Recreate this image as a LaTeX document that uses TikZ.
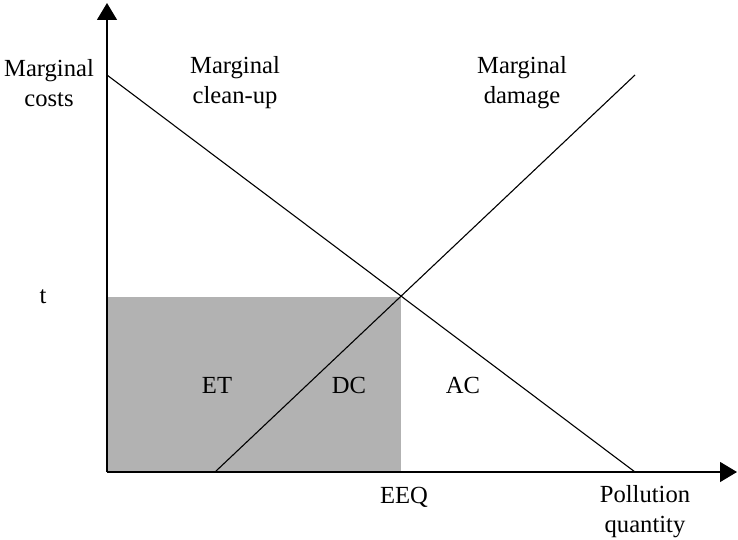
\documentclass[tikz,border=0pt]{standalone}
\usepackage{fontspec}
\setmainfont{Liberation Serif}
\usetikzlibrary{arrows.meta}

\begin{document}
\begin{tikzpicture}[x=0.5pt, y=-0.5pt, font=\fontsize{12.3}{15}\selectfont]
	  \tikzstyle{every node} = [align=center, inner sep=0pt]
	  \tikzstyle{axis} = [line width=0.6pt, -{Triangle[length=8.5pt,width=10pt]}]
	  \tikzstyle{curve} = [line width=0.55pt]
	  \useasboundingbox (0,0) rectangle (738,540);
	  \coordinate (O) at (107,472);
	  \coordinate (ytop) at (107,3);
	  \coordinate (xend) at (737,472);
	  \coordinate (cu0) at (107,75);
	  \coordinate (cu1) at (635,472);
	  \coordinate (md0) at (215,472);
	  \coordinate (md1) at (635,75);
	  \coordinate (E) at (401,297);
	  \fill [black!30] (O) rectangle (E);
	  \draw [curve] (cu0) -- (cu1);
	  \draw [curve] (md0) -- (md1);
	  \draw [axis] (O) -- (ytop);
	  \draw [axis] (O) -- (xend);
	  \node (mc) at (49,83) {Marginal\\costs};
	  \node (mcu) at (235,83) {Marginal\\clean-up};
	  \node (mdm) at (522,83) {Marginal\\damage};
	  \node (t) at (43,297) {t};
	  \node (et) at (217,385) {ET};
	  \node (dc) at (349,385) {DC};
	  \node (ac) at (463,385) {AC};
	  \node (eeq) at (404,497) {EEQ};
	  \node (pq) at (645,512) {Pollution\\quantity};
\end{tikzpicture}
\end{document}
